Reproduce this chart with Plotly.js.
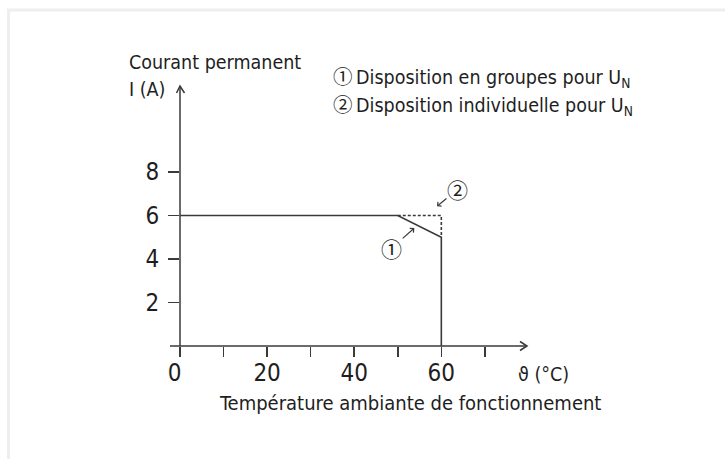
<!DOCTYPE html>
<html>
<head>
<meta charset="utf-8">
<script src="https://cdn.plot.ly/plotly-3.0.1.min.js"></script>
<style>
  html, body { margin: 0; padding: 0; background: #fff; }
  #chart { width: 725px; height: 459px; }
</style>
</head>
<body>
<div id="chart"></div>
<script>
// ---- data ----
var tempGroup = [0, 50, 60, 60];        // °C, courbe ① (trait plein)
var currentGroup = [6, 6, 5, 0];        // A
var tempSingle = [50, 60, 60];          // °C, courbe ② (pointillés)
var currentSingle = [6, 6, 5];          // A
var xTickVals = [0, 20, 40, 60];
var xTickText = ["0\u2002", "20", "40", "60"];
var xMinorTickVals = [10, 30, 50, 70];
var yTickVals = [2, 4, 6, 8];
var yTickText = ["2", "4", "6", "8"];
var circ1 = "\u2460", circ2 = "\u2461";
var legendTexts = [
  "Disposition en groupes pour U<sub>N</sub>",
  "Disposition individuelle pour U<sub>N</sub>"
];

var FONT = "Liberation Sans Narrow, DejaVu Sans Condensed, Roboto, sans-serif";
var CJK = "Noto Sans CJK JP, DejaVu Sans, sans-serif";
var INK = "#3a3a3a";
var TXT = "#1e1e1e";

var traces = [
  { x: tempGroup, y: currentGroup, mode: "lines", type: "scatter",
    line: { color: INK, width: 1.6 }, hoverinfo: "skip", cliponaxis: false },
  { x: tempSingle, y: currentSingle, mode: "lines", type: "scatter",
    line: { color: INK, width: 1.6, dash: "3px,2px" }, hoverinfo: "skip", cliponaxis: false }
];

var L = 180, T = 85, W = 348, H = 261;
function fx(p) { return (p - L) / W; }       // pixel x -> paper x
function fy(p) { return (T + H - p) / H; }   // pixel y -> paper y
function path(pts) {
  return pts.map(function (p, i) { return (i ? "L" : "M") + fx(p[0]) + "," + fy(p[1]); }).join(" ");
}

function circledLabel(c, txt) {
  return '<span style="font-family:' + CJK + '">' + c + '</span>\u2009' + txt;
}

var axisLine = { color: INK, width: 1.5 };

var layout = {
  width: 725, height: 459,
  margin: { l: L, r: 725 - L - W, t: T, b: 459 - T - H, pad: 0 },
  paper_bgcolor: "#fff", plot_bgcolor: "rgba(0,0,0,0)",
  showlegend: false,
  font: { family: FONT, color: TXT, size: 20 },
  xaxis: {
    range: [0, 79.9], showline: false, showgrid: false, zeroline: false,
    tickmode: "array", tickvals: xTickVals, ticktext: xTickText,
    ticks: "outside", ticklen: 10, tickwidth: 1.5, tickcolor: INK,
    ticklabelstandoff: -5,
    minor: { tickmode: "array", tickvals: xMinorTickVals, ticks: "outside",
             ticklen: 10, tickwidth: 1.5, tickcolor: INK, showgrid: false },
    tickfont: { family: FONT, size: 24, color: TXT }, fixedrange: true
  },
  yaxis: {
    range: [0, 12], showline: false, showgrid: false, zeroline: false,
    tickmode: "array", tickvals: yTickVals, ticktext: yTickText,
    ticks: "outside", ticklen: 11, tickwidth: 1.5, tickcolor: INK,
    ticklabelstandoff: 4,
    tickfont: { family: FONT, size: 24, color: TXT }, fixedrange: true
  },
  shapes: [
    // light frame (top & left)
    { type: "rect", xref: "paper", yref: "paper",
      x0: fx(8.5), x1: fx(740), y0: fy(475), y1: fy(10),
      line: { color: "#eeeeee", width: 3 }, fillcolor: "rgba(0,0,0,0)", layer: "below" },
    // x axis line + arrowhead
    { type: "line", xref: "paper", yref: "paper", x0: fx(170), x1: fx(527), y0: 0, y1: 0, line: axisLine },
    { type: "path", xref: "paper", yref: "paper", path: path([[520, 341.5], [527, 346], [520, 350.5]]), line: axisLine },
    // y axis line + arrowhead
    { type: "line", xref: "paper", yref: "paper", x0: 0, x1: 0, y0: fy(346), y1: fy(86), line: axisLine },
    { type: "path", xref: "paper", yref: "paper", path: path([[176.5, 93], [180, 86], [184.5, 93]]), line: axisLine }
  ],
  annotations: [
    // y title
    { xref: "paper", yref: "paper", x: fx(127), y: fy(63), xanchor: "left", yanchor: "middle",
      text: "Courant permanent", showarrow: false, font: { size: 19.5 } },
    { xref: "paper", yref: "paper", x: fx(127), y: fy(89), xanchor: "left", yanchor: "middle",
      text: "I (A)", showarrow: false, font: { size: 19.5 } },
    // legend text
    { xref: "paper", yref: "paper", x: fx(331), y: fy(76), xanchor: "left", yanchor: "middle",
      text: circledLabel(circ1, legendTexts[0]), showarrow: false, font: { size: 19.5 } },
    { xref: "paper", yref: "paper", x: fx(331), y: fy(104), xanchor: "left", yanchor: "middle",
      text: circledLabel(circ2, legendTexts[1]), showarrow: false, font: { size: 19.5 } },
    // x unit
    { xref: "paper", yref: "paper", x: fx(516), y: fy(374), xanchor: "left", yanchor: "middle",
      text: "\u03D1 (°C)", showarrow: false, font: { size: 19.5 } },
    // x title
    { xref: "paper", yref: "paper", x: fx(410), y: fy(403), xanchor: "center", yanchor: "middle",
      text: "Température ambiante de fonctionnement", showarrow: false, font: { size: 20 } },
    // curve labels
    { xref: "x", yref: "y", axref: "x", ayref: "y", x: 53.8, y: 5.42, ax: 48.6, ay: 4.5,
      text: circ1, showarrow: true, arrowhead: 4, arrowsize: 0.9, arrowwidth: 1.2,
      arrowcolor: INK, standoff: 0, borderpad: 0, font: { family: CJK, size: 21, color: TXT } },
    { xref: "x", yref: "y", axref: "x", ayref: "y", x: 59.0, y: 6.42, ax: 63.7, ay: 7.2,
      text: circ2, showarrow: true, arrowhead: 4, arrowsize: 0.9, arrowwidth: 1.2,
      arrowcolor: INK, standoff: 0, borderpad: 0, font: { family: CJK, size: 21, color: TXT } }
  ]
};

Plotly.newPlot("chart", traces, layout, { displayModeBar: false, staticPlot: true });
</script>
</body>
</html>
